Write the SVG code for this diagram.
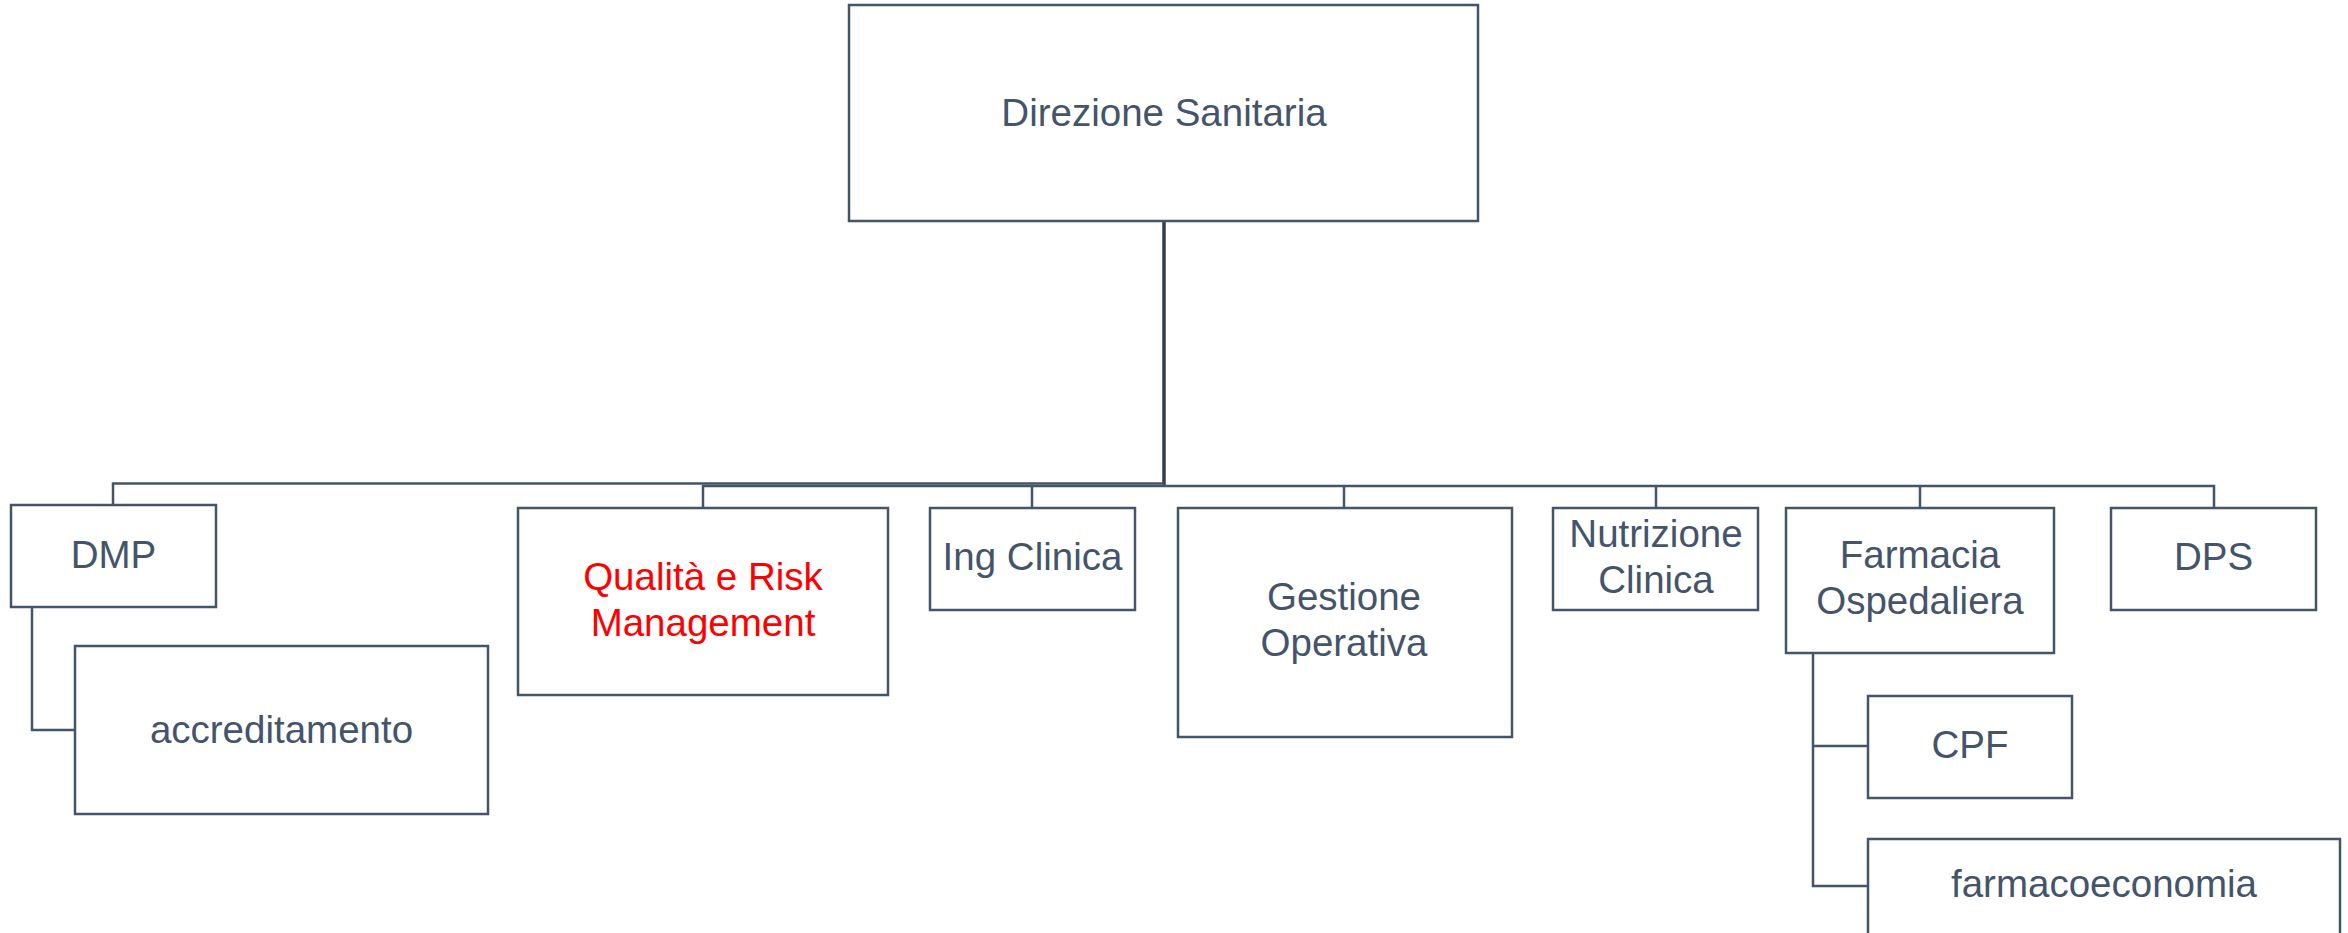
<svg xmlns="http://www.w3.org/2000/svg" width="2348" height="933" viewBox="0 0 2348 933">
<style>
.box{fill:#FFFFFF;stroke:#44546A;stroke-width:2.5}
.lbl{font-family:"Liberation Sans",Arial,sans-serif;font-size:38.5px;fill:#44546A;text-anchor:middle}
.red{fill:#FF0000}
.con{fill:none;stroke:#44546A;stroke-width:2.5}
.trunk{fill:none;stroke:#333F50;stroke-width:3.5}
</style>
<rect width="2348" height="933" fill="#FFFFFF"/>
<g id="connectors">
<path class="trunk" d="M1164,221 V485"/>
<path class="con" d="M113,505 V483.5 H1164"/>
<path class="con" d="M703,508 V486 H2214 V508"/>
<path class="con" d="M1032,486 V508"/>
<path class="con" d="M1344,486 V508"/>
<path class="con" d="M1656,486 V508"/>
<path class="con" d="M1920,486 V508"/>
<path class="con" d="M32,607 V730 H75"/>
<path class="con" d="M1813,653 V886 H1868"/>
<path class="con" d="M1813,746 H1868"/>
</g>
<g id="direzione">
<rect class="box" x="849" y="5" width="629" height="216"/>
<text class="lbl" x="1164" y="126">Direzione Sanitaria</text>
</g>
<g id="dmp">
<rect class="box" x="11" y="505" width="205" height="102"/>
<text class="lbl" x="113.5" y="568">DMP</text>
</g>
<g id="accreditamento">
<rect class="box" x="75" y="646" width="413" height="168"/>
<text class="lbl" x="281.5" y="743">accreditamento</text>
</g>
<g id="qualita">
<rect class="box" x="518" y="508" width="370" height="187"/>
<text class="lbl red" x="703" y="590">Qualità e Risk</text>
<text class="lbl red" x="703" y="636">Management</text>
</g>
<g id="ing-clinica">
<rect class="box" x="930" y="508" width="205" height="102"/>
<text class="lbl" x="1032.5" y="570">Ing Clinica</text>
</g>
<g id="gestione">
<rect class="box" x="1178" y="508" width="334" height="229"/>
<text class="lbl" x="1344" y="610">Gestione</text>
<text class="lbl" x="1344" y="656">Operativa</text>
</g>
<g id="nutrizione">
<rect class="box" x="1553" y="508" width="205" height="102"/>
<text class="lbl" x="1656" y="547">Nutrizione</text>
<text class="lbl" x="1656" y="593">Clinica</text>
</g>
<g id="farmacia">
<rect class="box" x="1786" y="508" width="268" height="145"/>
<text class="lbl" x="1920" y="568">Farmacia</text>
<text class="lbl" x="1920" y="614">Ospedaliera</text>
</g>
<g id="dps">
<rect class="box" x="2111" y="508" width="205" height="102"/>
<text class="lbl" x="2213.5" y="570">DPS</text>
</g>
<g id="cpf">
<rect class="box" x="1868" y="696" width="204" height="102"/>
<text class="lbl" x="1970" y="758">CPF</text>
</g>
<g id="farmacoeconomia">
<rect class="box" x="1868" y="839" width="472" height="110"/>
<text class="lbl" x="2104" y="897">farmacoeconomia</text>
</g>
</svg>
